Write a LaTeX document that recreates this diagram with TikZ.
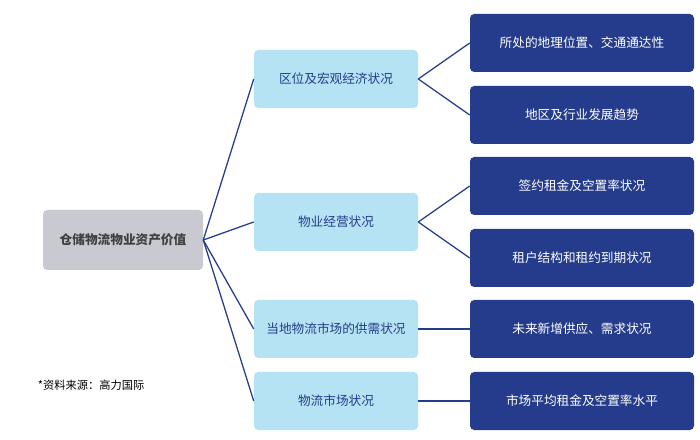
\documentclass[tikz,border=0pt]{standalone}
\usepackage{fontspec}
\setmainfont{Noto Sans CJK SC}
\definecolor{navy}{HTML}{253C8C}
\definecolor{sky}{HTML}{B5E3F3}
\definecolor{stone}{HTML}{C9C9D1}
\tikzset{
  root/.style={rectangle, rounded corners=3pt, fill=stone, minimum width=160\unit, minimum height=60\unit, font=\bfseries\small, text=black!75},
  mid/.style={rectangle, rounded corners=3pt, fill=sky, minimum width=164\unit, minimum height=58\unit, font=\small, text=navy},
  leaf/.style={rectangle, rounded corners=3pt, fill=navy, minimum width=224\unit, minimum height=58\unit, font=\small, text=white},
  link/.style={draw=navy, line width=0.9pt}
}
\newlength{\unit}
\setlength{\unit}{0.025cm}
\begin{document}
\begin{tikzpicture}[x=0.025cm, y=-0.025cm]
	\useasboundingbox (0,0) rectangle (700,440);
	\node[root](asset) at (123,240){仓储物流物业资产价值};
	\node[mid](region) at (336,79){区位及宏观经济状况};
	\node[mid](operation) at (336,222){物业经营状况};
	\node[mid](local) at (336,329){当地物流市场的供需状况};
	\node[mid](market) at (336,401){物流市场状况};
	\node[leaf](location) at (582,43){所处的地理位置、交通通达性};
	\node[leaf](industry) at (582,115){地区及行业发展趋势};
	\node[leaf](rent) at (582,186){签约租金及空置率状况};
	\node[leaf](tenant) at (582,258){租户结构和租约到期状况};
	\node[leaf](supply) at (582,329){未来新增供应、需求状况};
	\node[leaf](average) at (582,401){市场平均租金及空置率水平};
	\node[anchor=west, font=\footnotesize](source) at (33,385){*资料来源：高力国际};

	\foreach \m in {region,operation,local,market}
		\draw[link](asset.east)--(\m.west);
	\draw[link](region.east)--(location.west);
	\draw[link](region.east)--(industry.west);
	\draw[link](operation.east)--(rent.west);
	\draw[link](operation.east)--(tenant.west);
	\draw[link](local.east)--(supply.west);
	\draw[link](market.east)--(average.west);
\end{tikzpicture}
\end{document}
